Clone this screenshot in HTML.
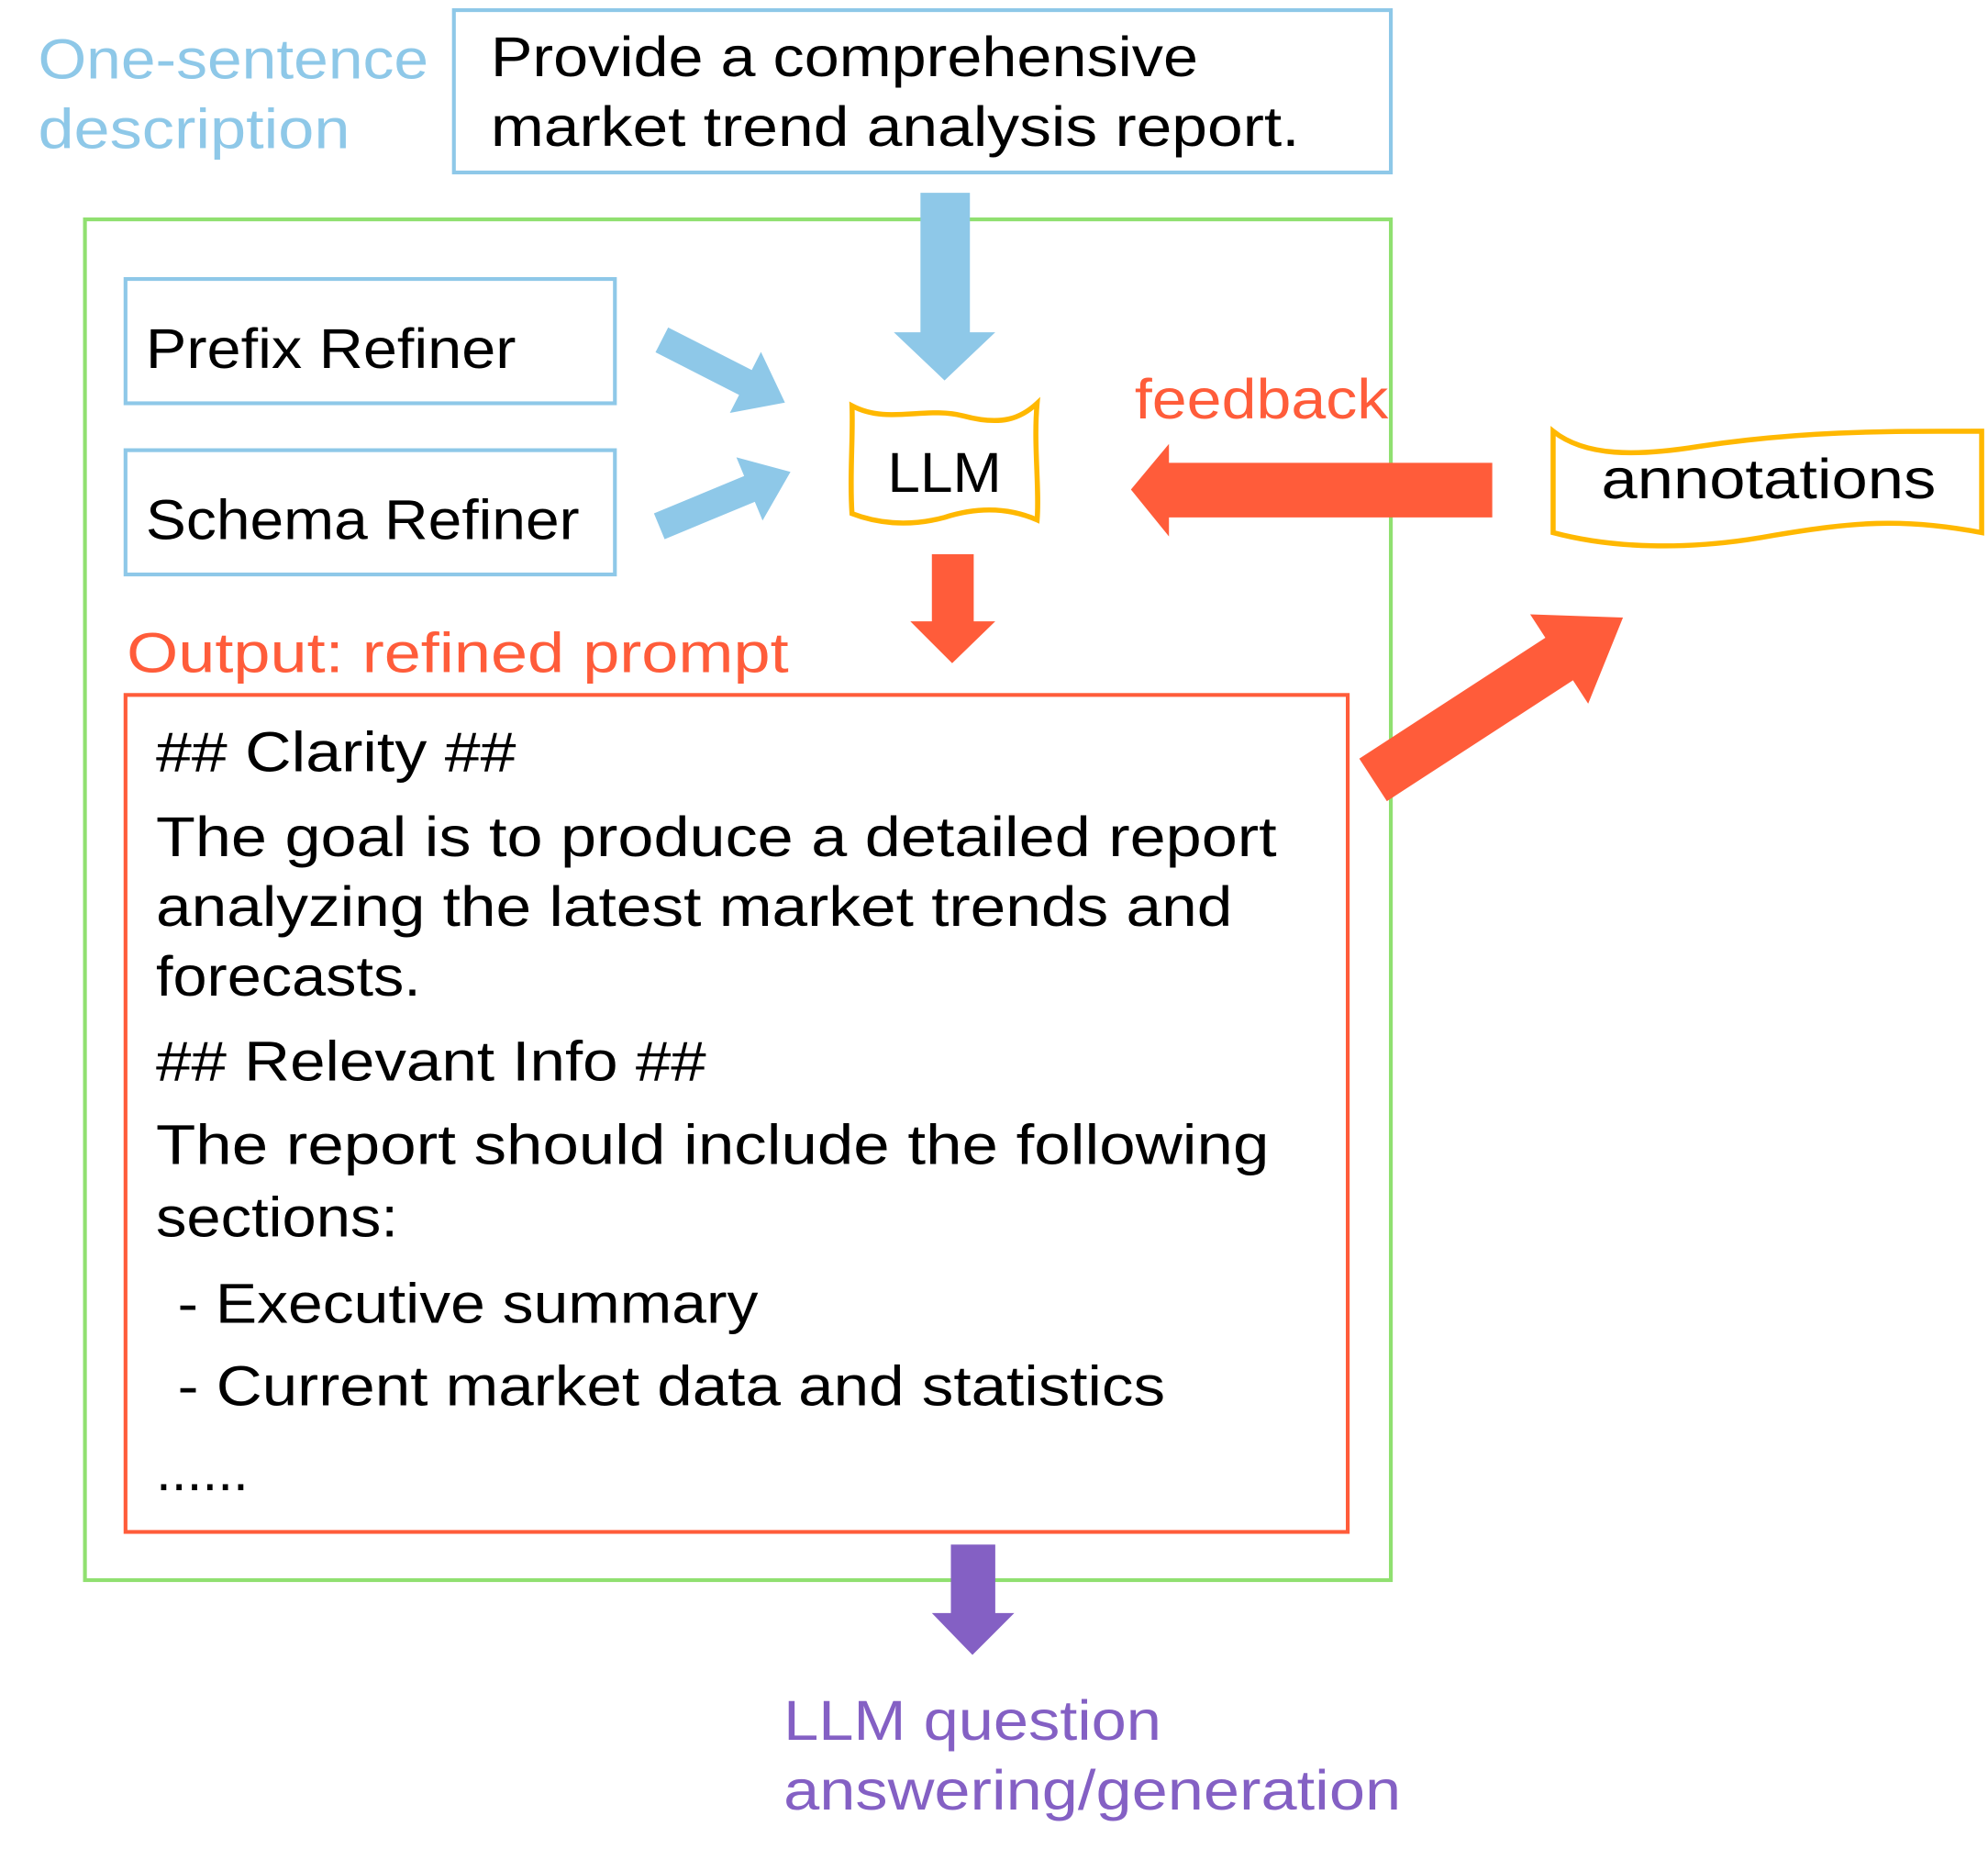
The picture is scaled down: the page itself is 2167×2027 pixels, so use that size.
<!DOCTYPE html>
<html><head><meta charset="utf-8"><style>html,body{margin:0;padding:0;background:#fff}svg{display:block}</style></head><body>
<svg width="2167" height="2027" viewBox="0 0 1568 1466.7" xmlns="http://www.w3.org/2000/svg" font-family="Liberation Sans, DejaVu Sans, sans-serif">
<rect width="1568" height="1467" fill="#fff"/>
<text x="30" y="62" font-size="44" fill="#8EC8E8" textLength="308" lengthAdjust="spacingAndGlyphs">One-sentence</text>
<text x="30" y="117" font-size="44" fill="#8EC8E8" textLength="246" lengthAdjust="spacingAndGlyphs">description</text>
<rect x="358" y="8" width="739" height="128" fill="none" stroke="#8EC8E8" stroke-width="3"/>
<text x="387" y="60" font-size="44" textLength="558" lengthAdjust="spacingAndGlyphs">Provide a comprehensive</text>
<text x="387" y="115" font-size="44" textLength="638" lengthAdjust="spacingAndGlyphs">market trend analysis report.</text>
<rect x="67" y="173" width="1030" height="1073" fill="none" stroke="#90E070" stroke-width="3"/>
<polygon points="726,152 765,152 765,262 785,262 745,300 705,262 726,262" fill="#8EC8E8"/>
<rect x="99" y="220" width="386" height="98" fill="none" stroke="#8EC8E8" stroke-width="3"/>
<text x="115" y="290" font-size="44" textLength="292" lengthAdjust="spacingAndGlyphs">Prefix Refiner</text>
<rect x="99" y="355" width="386" height="98" fill="none" stroke="#8EC8E8" stroke-width="3"/>
<text x="115" y="425" font-size="44" textLength="342" lengthAdjust="spacingAndGlyphs">Schema Refiner</text>
<g transform="translate(522,268) rotate(27)"><polygon points="0,-11 74,-11 74,-27 109,0 74,27 74,11 0,11" fill="#8EC8E8"/></g>
<g transform="translate(520,415) rotate(-22.5)"><polygon points="0,-11 77,-11 77,-27 112,0 77,27 77,11 0,11" fill="#8EC8E8"/></g>
<path d="M672,320 C700,335 730,320 760,328 C790,336 805,330 818,318 C815,350 820,385 818,410 C795,400 770,400 745,408 C715,416 690,412 672,405 C670,375 673,345 672,320 Z" fill="none" stroke="#FFB800" stroke-width="4"/>
<text x="700" y="388" font-size="44" textLength="90" lengthAdjust="spacingAndGlyphs">LLM</text>
<text x="895" y="330" font-size="44" fill="#FF5C3A" textLength="200" lengthAdjust="spacingAndGlyphs">feedback</text>
<polygon points="1177,365 922,365 922,350 892,386 922,423 922,408 1177,408" fill="#FF5C3A"/>
<path d="M1225,340 C1250,360 1290,360 1340,352 C1420,340 1480,340 1563,340 L1563,420 C1500,408 1460,412 1400,422 C1330,435 1270,432 1225,420 Z" fill="none" stroke="#FFB800" stroke-width="4"/>
<text x="1263" y="393" font-size="44" textLength="264" lengthAdjust="spacingAndGlyphs">annotations</text>
<polygon points="735,437 768,437 768,490 785,490 751,523 718,490 735,490" fill="#FF5C3A"/>
<text x="100" y="530" font-size="44" fill="#FF5C3A" textLength="522" lengthAdjust="spacingAndGlyphs">Output: refined prompt</text>
<rect x="99" y="548" width="964" height="660" fill="none" stroke="#FF5C3A" stroke-width="3"/>
<g font-size="44">
<text x="123" y="608" textLength="284" lengthAdjust="spacingAndGlyphs">## Clarity ##</text>
<text x="123" y="675" textLength="884" lengthAdjust="spacingAndGlyphs">The goal is to produce a detailed report</text>
<text x="123" y="730" textLength="849" lengthAdjust="spacingAndGlyphs">analyzing the latest market trends and</text>
<text x="123" y="785" textLength="209" lengthAdjust="spacingAndGlyphs">forecasts.</text>
<text x="123" y="852" textLength="434" lengthAdjust="spacingAndGlyphs">## Relevant Info ##</text>
<text x="123" y="918" textLength="878" lengthAdjust="spacingAndGlyphs">The report should include the following</text>
<text x="123" y="975" textLength="191" lengthAdjust="spacingAndGlyphs">sections:</text>
<text x="140" y="1043" textLength="458" lengthAdjust="spacingAndGlyphs">- Executive summary</text>
<text x="140" y="1108" textLength="779" lengthAdjust="spacingAndGlyphs">- Current market data and statistics</text>
<text x="123" y="1175" textLength="73" lengthAdjust="spacingAndGlyphs">......</text>
</g>
<g transform="translate(1083,615) rotate(-33)"><polygon points="0,-20 175,-20 175,-42 235,0 175,42 175,20 0,20" fill="#FF5C3A"/></g>
<polygon points="750,1218 785,1218 785,1272 800,1272 767,1305 735,1272 750,1272" fill="#8460C4"/>
<text x="618" y="1372" font-size="44" fill="#8460C4" textLength="298" lengthAdjust="spacingAndGlyphs">LLM question</text>
<text x="618" y="1427" font-size="44" fill="#8460C4" textLength="487" lengthAdjust="spacingAndGlyphs">answering/generation</text>
</svg>
</body></html>
